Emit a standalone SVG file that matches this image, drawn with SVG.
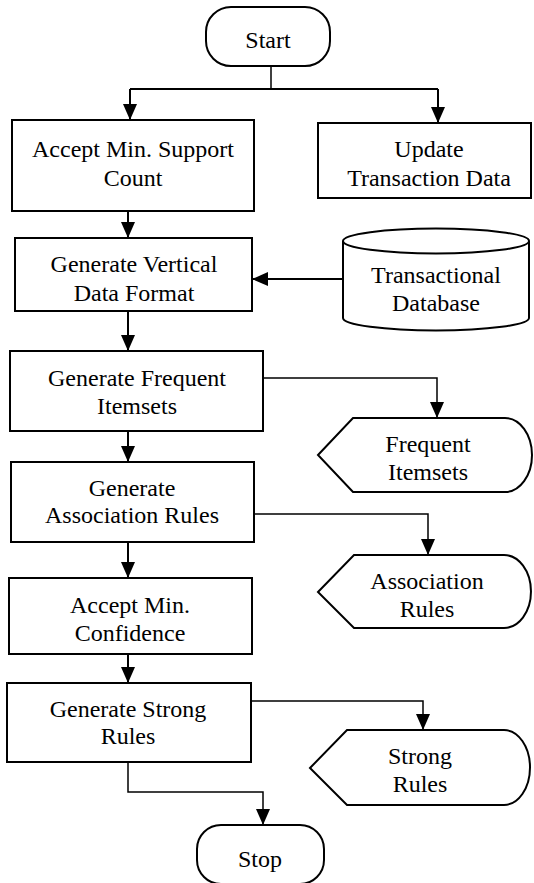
<svg xmlns="http://www.w3.org/2000/svg" width="534" height="883" viewBox="0 0 534 883">
<style>
.s{fill:#fff;stroke:#000;stroke-width:2}
.c{fill:none;stroke:#000;stroke-width:2}
.c1{fill:none;stroke:#000;stroke-width:1.5}
</style>
<defs>
<marker id="a" markerUnits="userSpaceOnUse" markerWidth="16" markerHeight="14" refX="16" refY="7" orient="auto">
<path d="M0,0 L16,7 L0,14 z" fill="#000"/>
</marker>
</defs>
<rect width="534" height="883" fill="#fff"/>
<g id="connectors">
<path class="c1" d="M271,66 V89"/>
<path class="c" d="M130,89 H438"/>
<path class="c" d="M130,89 V120" marker-end="url(#a)"/>
<path class="c" d="M438,89 V123" marker-end="url(#a)"/>
<path class="c" d="M128,211 V238" marker-end="url(#a)"/>
<path class="c" d="M343,279 H252" marker-end="url(#a)"/>
<path class="c" d="M128,311 V351" marker-end="url(#a)"/>
<path class="c1" d="M263,378 H437 V418" marker-end="url(#a)"/>
<path class="c" d="M128,431 V462" marker-end="url(#a)"/>
<path class="c1" d="M254,514 H428 V555" marker-end="url(#a)"/>
<path class="c" d="M128,542 V578" marker-end="url(#a)"/>
<path class="c" d="M128,654 V683" marker-end="url(#a)"/>
<path class="c1" d="M251,701 H423 V730" marker-end="url(#a)"/>
<path class="c1" d="M128,762 V792 H263 V825" marker-end="url(#a)"/>
</g>
<g id="start">
<rect class="s" x="206" y="7" width="124" height="59" rx="25" ry="25"/>
<text x="268" y="48" style="font-family:Liberation Serif,Tinos,Times New Roman,serif;font-size:24px;text-anchor:middle;fill:#000">Start</text>
</g>
<g id="accept-support">
<rect class="s" x="12" y="120" width="242" height="91"/>
<text x="133" y="157" style="font-family:Liberation Serif,Tinos,Times New Roman,serif;font-size:24px;text-anchor:middle;fill:#000">Accept Min. Support</text>
<text x="133" y="186" style="font-family:Liberation Serif,Tinos,Times New Roman,serif;font-size:24px;text-anchor:middle;fill:#000">Count</text>
</g>
<g id="update">
<rect class="s" x="318" y="123" width="213" height="75"/>
<text x="429" y="157" style="font-family:Liberation Serif,Tinos,Times New Roman,serif;font-size:24px;text-anchor:middle;fill:#000">Update</text>
<text x="429" y="186" style="font-family:Liberation Serif,Tinos,Times New Roman,serif;font-size:24px;text-anchor:middle;fill:#000">Transaction Data</text>
</g>
<g id="vertical">
<rect class="s" x="15" y="238" width="237" height="73"/>
<text x="134" y="272" style="font-family:Liberation Serif,Tinos,Times New Roman,serif;font-size:24px;text-anchor:middle;fill:#000">Generate Vertical</text>
<text x="134" y="301" style="font-family:Liberation Serif,Tinos,Times New Roman,serif;font-size:24px;text-anchor:middle;fill:#000">Data Format</text>
</g>
<g id="database">
<path class="s" d="M343,241 A93,12.5 0 0 1 529,241 V318 A93,12.5 0 0 1 343,318 Z"/>
<path class="s" fill="none" d="M343,241 A93,12.5 0 0 0 529,241"/>
<text x="436" y="283" style="font-family:Liberation Serif,Tinos,Times New Roman,serif;font-size:24px;text-anchor:middle;fill:#000">Transactional</text>
<text x="436" y="311" style="font-family:Liberation Serif,Tinos,Times New Roman,serif;font-size:24px;text-anchor:middle;fill:#000">Database</text>
</g>
<g id="frequent">
<rect class="s" x="10" y="351" width="253" height="80"/>
<text x="137" y="386" style="font-family:Liberation Serif,Tinos,Times New Roman,serif;font-size:24px;text-anchor:middle;fill:#000">Generate Frequent</text>
<text x="137" y="414" style="font-family:Liberation Serif,Tinos,Times New Roman,serif;font-size:24px;text-anchor:middle;fill:#000">Itemsets</text>
</g>
<g id="frequent-out">
<path class="s" d="M318,455 L353,418 H505 A27,37 0 0 1 505,492 H353 Z"/>
<text x="428" y="452" style="font-family:Liberation Serif,Tinos,Times New Roman,serif;font-size:24px;text-anchor:middle;fill:#000">Frequent</text>
<text x="428" y="480" style="font-family:Liberation Serif,Tinos,Times New Roman,serif;font-size:24px;text-anchor:middle;fill:#000">Itemsets</text>
</g>
<g id="association">
<rect class="s" x="11" y="462" width="243" height="80"/>
<text x="132" y="496" style="font-family:Liberation Serif,Tinos,Times New Roman,serif;font-size:24px;text-anchor:middle;fill:#000">Generate</text>
<text x="132" y="523" style="font-family:Liberation Serif,Tinos,Times New Roman,serif;font-size:24px;text-anchor:middle;fill:#000">Association Rules</text>
</g>
<g id="association-out">
<path class="s" d="M318,592 L354,555 H504 A27,36.5 0 0 1 504,628 H354 Z"/>
<text x="427" y="589" style="font-family:Liberation Serif,Tinos,Times New Roman,serif;font-size:24px;text-anchor:middle;fill:#000">Association</text>
<text x="427" y="617" style="font-family:Liberation Serif,Tinos,Times New Roman,serif;font-size:24px;text-anchor:middle;fill:#000">Rules</text>
</g>
<g id="accept-confidence">
<rect class="s" x="9" y="578" width="243" height="76"/>
<text x="130" y="613" style="font-family:Liberation Serif,Tinos,Times New Roman,serif;font-size:24px;text-anchor:middle;fill:#000">Accept Min.</text>
<text x="130" y="641" style="font-family:Liberation Serif,Tinos,Times New Roman,serif;font-size:24px;text-anchor:middle;fill:#000">Confidence</text>
</g>
<g id="strong">
<rect class="s" x="7" y="683" width="244" height="79"/>
<text x="128" y="717" style="font-family:Liberation Serif,Tinos,Times New Roman,serif;font-size:24px;text-anchor:middle;fill:#000">Generate Strong</text>
<text x="128" y="744" style="font-family:Liberation Serif,Tinos,Times New Roman,serif;font-size:24px;text-anchor:middle;fill:#000">Rules</text>
</g>
<g id="strong-out">
<path class="s" d="M310,768 L347,730 H504 A26,37.5 0 0 1 504,805 H347 Z"/>
<text x="420" y="764" style="font-family:Liberation Serif,Tinos,Times New Roman,serif;font-size:24px;text-anchor:middle;fill:#000">Strong</text>
<text x="420" y="792" style="font-family:Liberation Serif,Tinos,Times New Roman,serif;font-size:24px;text-anchor:middle;fill:#000">Rules</text>
</g>
<g id="stop">
<rect class="s" x="197" y="825" width="127" height="59" rx="24" ry="24"/>
<text x="260" y="867" style="font-family:Liberation Serif,Tinos,Times New Roman,serif;font-size:24px;text-anchor:middle;fill:#000">Stop</text>
</g>
</svg>
